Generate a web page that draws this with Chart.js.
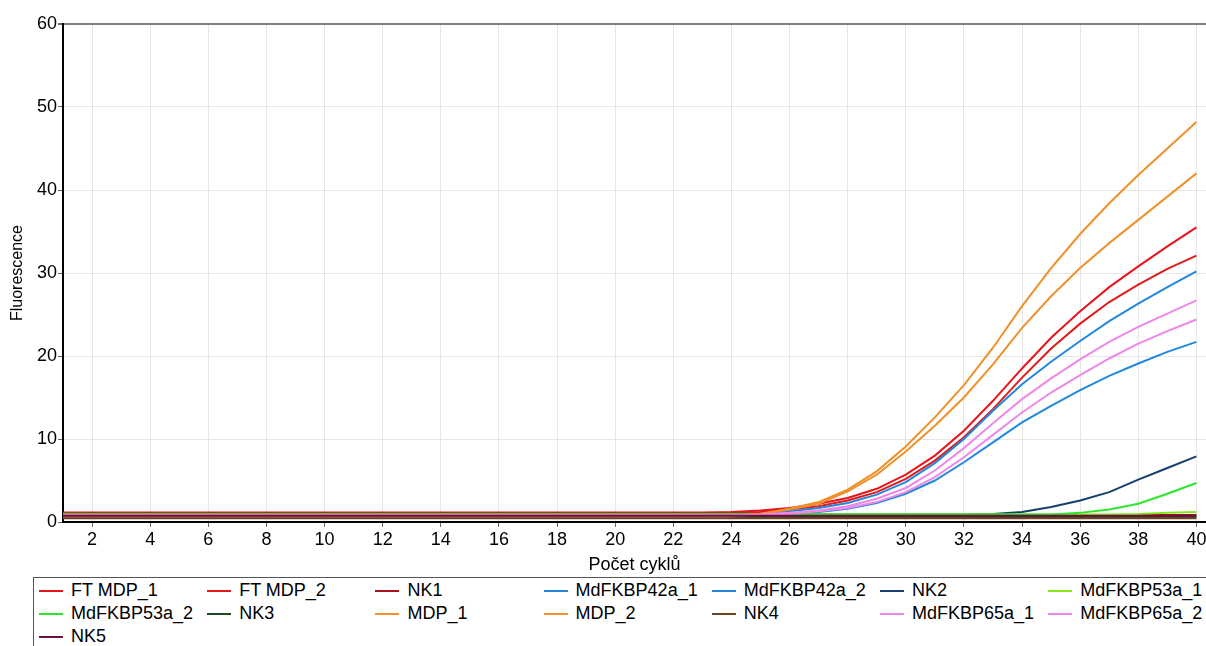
<!DOCTYPE html>
<html>
<head>
<meta charset="utf-8">
<script src="https://cdn.jsdelivr.net/npm/chart.js@4.4.0/dist/chart.umd.min.js"></script>
<style>
  html, body { margin: 0; padding: 0; background: #fff; }
  #wrap { position: relative; width: 1206px; height: 646px; overflow: hidden; }
  #chart { position: absolute; left: 0; top: 0; }
  #legend {
    position: absolute; left: 33px; top: 577px; width: 1200px; height: 100px;
    border: 1px solid #555; box-sizing: border-box;
    font: 18px 'Liberation Sans', Arial, sans-serif; color: #000;
  }
  .item { position: absolute; height: 23px; line-height: 23px; white-space: nowrap; }
  .item i { display: inline-block; width: 24px; height: 2px; vertical-align: middle; margin-right: 8px; }
</style>
</head>
<body>
<div id="wrap">
  <canvas id="chart" width="1206" height="576"></canvas>
  <div id="legend"></div>
</div>
<script>
// cycle numbers and axis ticks
const cycles = [1, 2, 3, 4, 5, 6, 7, 8, 9, 10, 11, 12, 13, 14, 15, 16, 17, 18, 19, 20,
                21, 22, 23, 24, 25, 26, 27, 28, 29, 30, 31, 32, 33, 34, 35, 36, 37, 38, 39, 40];
const xTicks = [2, 4, 6, 8, 10, 12, 14, 16, 18, 20, 22, 24, 26, 28, 30, 32, 34, 36, 38, 40];
const yTicks = [0, 10, 20, 30, 40, 50, 60];

const seriesNames = ['FT MDP_1', 'FT MDP_2', 'NK1', 'MdFKBP42a_1', 'MdFKBP42a_2', 'NK2', 'MdFKBP53a_1',
                     'MdFKBP53a_2', 'NK3', 'MDP_1', 'MDP_2', 'NK4', 'MdFKBP65a_1', 'MdFKBP65a_2', 'NK5'];
const seriesColors = ['#e8141c', '#e01a1a', '#a8101c', '#2288dd', '#2288dd', '#163f6e', '#88e61c',
                      '#2ee62e', '#1d4a22', '#f0902a', '#f0902a', '#6e4420', '#ee88e8', '#ee88e8', '#6a0f40'];

// fluorescence per cycle
const ftMdp1 = [1.15, 1.15, 1.15, 1.15, 1.15, 1.15, 1.15, 1.15, 1.15, 1.15, 1.15, 1.15, 1.15, 1.15, 1.15, 1.15, 1.15, 1.15, 1.15, 1.15,
                1.15, 1.15, 1.15, 1.2, 1.4, 1.7, 2.2, 2.9, 4.0, 5.7, 8.0, 11.0, 14.6, 18.5, 22.2, 25.4, 28.3, 30.8, 33.2, 35.5];
const ftMdp2 = [1.05, 1.05, 1.05, 1.05, 1.05, 1.05, 1.05, 1.05, 1.05, 1.05, 1.05, 1.05, 1.05, 1.05, 1.05, 1.05, 1.05, 1.05, 1.05, 1.05,
                1.05, 1.05, 1.05, 1.1, 1.2, 1.5, 1.9, 2.6, 3.6, 5.2, 7.4, 10.2, 13.6, 17.4, 20.9, 23.9, 26.5, 28.6, 30.5, 32.1];
const nk1 = [0.85, 0.85, 0.85, 0.85, 0.85, 0.85, 0.85, 0.85, 0.85, 0.85, 0.85, 0.85, 0.85, 0.85, 0.85, 0.85, 0.85, 0.85, 0.85, 0.85,
             0.85, 0.85, 0.85, 0.85, 0.85, 0.85, 0.85, 0.85, 0.85, 0.85, 0.85, 0.85, 0.85, 0.85, 0.85, 0.85, 0.85, 0.85, 0.85, 0.85];
const fkbp42a1 = [0.95, 0.95, 0.95, 0.95, 0.95, 0.95, 0.95, 0.95, 0.95, 0.95, 0.95, 0.95, 0.95, 0.95, 0.95, 0.95, 0.95, 0.95, 0.95, 0.95,
                  0.95, 0.95, 0.95, 0.95, 1.0, 1.3, 1.7, 2.3, 3.3, 4.8, 7.1, 10.0, 13.4, 16.6, 19.3, 21.8, 24.2, 26.3, 28.3, 30.2];
const fkbp42a2 = [0.9, 0.9, 0.9, 0.9, 0.9, 0.9, 0.9, 0.9, 0.9, 0.9, 0.9, 0.9, 0.9, 0.9, 0.9, 0.9, 0.9, 0.9, 0.9, 0.9,
                  0.9, 0.9, 0.9, 0.9, 0.95, 1.0, 1.2, 1.6, 2.3, 3.4, 5.0, 7.2, 9.6, 12.0, 14.0, 15.9, 17.6, 19.1, 20.5, 21.7];
const nk2 = [0.9, 0.9, 0.9, 0.9, 0.9, 0.9, 0.9, 0.9, 0.9, 0.9, 0.9, 0.9, 0.9, 0.9, 0.9, 0.9, 0.9, 0.9, 0.9, 0.9,
             0.9, 0.9, 0.9, 0.9, 0.9, 0.9, 0.9, 0.9, 0.9, 0.9, 0.9, 0.9, 0.95, 1.2, 1.8, 2.6, 3.6, 5.1, 6.5, 7.9];
const fkbp53a1 = [0.9, 0.9, 0.9, 0.9, 0.9, 0.9, 0.9, 0.9, 0.9, 0.9, 0.9, 0.9, 0.9, 0.9, 0.9, 0.9, 0.9, 0.9, 0.9, 0.9,
                  0.9, 0.9, 0.9, 0.9, 0.9, 0.9, 0.9, 0.9, 0.9, 0.9, 0.9, 0.9, 0.9, 0.9, 0.9, 0.9, 0.9, 0.95, 1.1, 1.2];
const fkbp53a2 = [0.9, 0.9, 0.9, 0.9, 0.9, 0.9, 0.9, 0.9, 0.9, 0.9, 0.9, 0.9, 0.9, 0.9, 0.9, 0.9, 0.9, 0.9, 0.9, 0.9,
                  0.9, 0.9, 0.9, 0.9, 0.9, 0.9, 0.9, 0.9, 0.9, 0.9, 0.9, 0.9, 0.9, 0.9, 0.9, 1.1, 1.5, 2.2, 3.4, 4.7];
const nk3 = [0.6, 0.6, 0.6, 0.6, 0.6, 0.6, 0.6, 0.6, 0.6, 0.6, 0.6, 0.6, 0.6, 0.6, 0.6, 0.6, 0.6, 0.6, 0.6, 0.6,
             0.6, 0.6, 0.6, 0.6, 0.6, 0.6, 0.6, 0.6, 0.6, 0.6, 0.6, 0.6, 0.6, 0.6, 0.6, 0.6, 0.6, 0.6, 0.6, 0.6];
const mdp1 = [0.55, 0.55, 0.55, 0.55, 0.55, 0.55, 0.55, 0.55, 0.55, 0.55, 0.55, 0.55, 0.55, 0.55, 0.55, 0.55, 0.55, 0.55, 0.55, 0.55,
              0.55, 0.55, 0.55, 0.7, 1.0, 1.6, 2.4, 3.9, 6.1, 9.1, 12.6, 16.5, 21.0, 26.0, 30.6, 34.7, 38.4, 41.8, 45.0, 48.2];
const mdp2 = [0.5, 0.5, 0.5, 0.5, 0.5, 0.5, 0.5, 0.5, 0.5, 0.5, 0.5, 0.5, 0.5, 0.5, 0.5, 0.5, 0.5, 0.5, 0.5, 0.5,
              0.5, 0.5, 0.5, 0.65, 0.95, 1.5, 2.2, 3.7, 5.7, 8.5, 11.6, 15.0, 19.0, 23.4, 27.2, 30.6, 33.6, 36.4, 39.2, 42.0];
const nk4 = [0.45, 0.45, 0.45, 0.45, 0.45, 0.45, 0.45, 0.45, 0.45, 0.45, 0.45, 0.45, 0.45, 0.45, 0.45, 0.45, 0.45, 0.45, 0.45, 0.45,
             0.45, 0.45, 0.45, 0.45, 0.45, 0.45, 0.45, 0.45, 0.45, 0.45, 0.45, 0.45, 0.45, 0.45, 0.45, 0.45, 0.45, 0.45, 0.45, 0.45];
const fkbp65a1 = [0.8, 0.8, 0.8, 0.8, 0.8, 0.8, 0.8, 0.8, 0.8, 0.8, 0.8, 0.8, 0.8, 0.8, 0.8, 0.8, 0.8, 0.8, 0.8, 0.8,
                  0.8, 0.8, 0.8, 0.8, 0.9, 1.1, 1.4, 1.9, 2.8, 4.1, 6.2, 8.9, 11.9, 14.8, 17.3, 19.6, 21.7, 23.5, 25.1, 26.7];
const fkbp65a2 = [0.8, 0.8, 0.8, 0.8, 0.8, 0.8, 0.8, 0.8, 0.8, 0.8, 0.8, 0.8, 0.8, 0.8, 0.8, 0.8, 0.8, 0.8, 0.8, 0.8,
                  0.8, 0.8, 0.8, 0.8, 0.85, 1.0, 1.3, 1.7, 2.4, 3.6, 5.4, 7.8, 10.5, 13.2, 15.6, 17.7, 19.7, 21.5, 23.0, 24.4];
const nk5 = [0.75, 0.75, 0.75, 0.75, 0.75, 0.75, 0.75, 0.75, 0.75, 0.75, 0.75, 0.75, 0.75, 0.75, 0.75, 0.75, 0.75, 0.75, 0.75, 0.75,
             0.75, 0.75, 0.75, 0.75, 0.75, 0.75, 0.75, 0.75, 0.75, 0.75, 0.75, 0.75, 0.75, 0.75, 0.75, 0.75, 0.75, 0.75, 0.75, 0.75];

const seriesValues = [ftMdp1, ftMdp2, nk1, fkbp42a1, fkbp42a2, nk2, fkbp53a1,
                      fkbp53a2, nk3, mdp1, mdp2, nk4, fkbp65a1, fkbp65a2, nk5];

Chart.defaults.font.family = "'Liberation Sans', Arial, sans-serif";
Chart.defaults.color = '#000';

const datasets = seriesNames.map((name, i) => ({
    label: name,
    data: cycles.map((c, k) => ({x: c, y: seriesValues[i][k]})),
    borderColor: seriesColors[i],
    borderWidth: 2,
    pointRadius: 0,
    fill: false,
    tension: 0,
    order: -i   // later series are drawn on top
}));

const ctx = document.getElementById('chart').getContext('2d');
new Chart(ctx, {
    type: 'line',
    data: {datasets: datasets},
    options: {
        responsive: false,
        animation: false,
        layout: {padding: {top: 24, left: 0, right: 0, bottom: 0}},
        plugins: {
            legend: {display: false},
            tooltip: {enabled: false}
        },
        scales: {
            x: {
                type: 'linear',
                min: 1,
                max: 40.33,
                afterBuildTicks: s => { s.ticks = xTicks.map(v => ({value: v})); },
                afterFit: s => { s.height = 54; s.paddingLeft = 0; s.paddingRight = 0; },
                ticks: {font: {size: 18}, color: '#000', padding: 2, maxRotation: 0, autoSkip: false},
                grid: {color: '#e6e6e6', lineWidth: 1, tickLength: 5, tickColor: '#666'},
                border: {color: '#000', width: 2},
                title: {display: true, text: 'Počet cyklů', font: {size: 18}, color: '#000', padding: 0}
            },
            y: {
                min: 0,
                max: 60,
                afterBuildTicks: s => { s.ticks = yTicks.map(v => ({value: v})); },
                afterFit: s => { s.width = 63; },
                ticks: {font: {size: 18}, color: '#000', padding: 1},
                grid: {
                    // top edge of the plot is a darker frame line
                    color: c => (c.tick && c.tick.value === 60) ? '#808080' : '#e6e6e6',
                    lineWidth: c => (c.tick && c.tick.value === 60) ? 2 : 1,
                    tickLength: 5,
                    tickColor: '#666'
                },
                border: {color: '#000', width: 2},
                title: {display: true, text: 'Fluorescence', font: {size: 16}, color: '#000', padding: {top: 8, bottom: 0}}
            }
        }
    }
});

// legend laid out in a fixed grid of seven columns
const legend = document.getElementById('legend');
seriesNames.forEach((name, i) => {
    const item = document.createElement('div');
    item.className = 'item';
    item.style.left = (5 + (i % 7) * 168.2) + 'px';
    item.style.top = (0.5 + Math.floor(i / 7) * 23) + 'px';
    const swatch = document.createElement('i');
    swatch.style.background = seriesColors[i];
    item.appendChild(swatch);
    item.appendChild(document.createTextNode(name));
    legend.appendChild(item);
});
</script>
</body>
</html>
